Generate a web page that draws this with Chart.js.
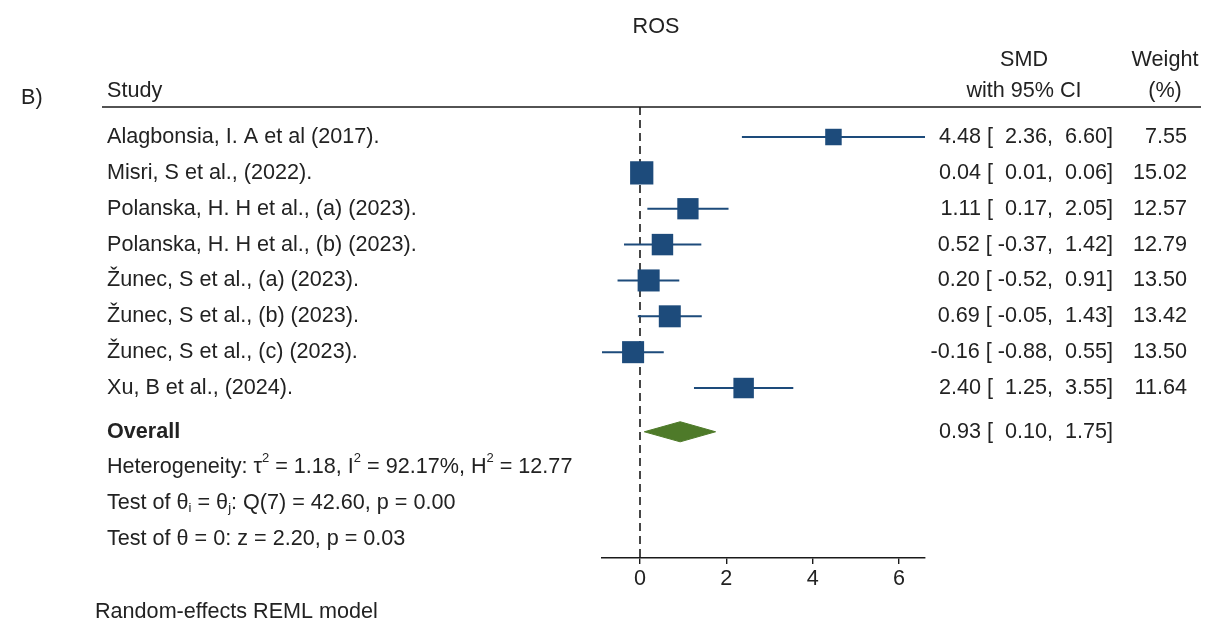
<!DOCTYPE html>
<html>
<head>
<meta charset="utf-8">
<script src="https://cdn.jsdelivr.net/npm/chart.js@4.4.0/dist/chart.umd.min.js"></script>
<style>
  html, body { margin: 0; padding: 0; background: #ffffff; }
  #wrap { width: 1206px; height: 626px; }
</style>
</head>
<body>
<div id="wrap"><canvas id="forest" width="1206" height="626"></canvas></div>
<script>
// ROS forest plot: standardized mean differences, random-effects REML
const studies = [
  "Alagbonsia, I. A et al (2017).",
  "Misri, S et al., (2022).",
  "Polanska, H. H et al., (a) (2023).",
  "Polanska, H. H et al., (b) (2023).",
  "Žunec, S et al., (a) (2023).",
  "Žunec, S et al., (b) (2023).",
  "Žunec, S et al., (c) (2023).",
  "Xu, B et al., (2024)."
];
const smd     = [4.48, 0.04, 1.11, 0.52, 0.20, 0.69, -0.16, 2.40];
const ciLow   = [2.36, 0.01, 0.17, -0.37, -0.52, -0.05, -0.88, 1.25];
const ciHigh  = [6.60, 0.06, 2.05, 1.42, 0.91, 1.43, 0.55, 3.55];
const weights = [7.55, 15.02, 12.57, 12.79, 13.50, 13.42, 13.50, 11.64];

const overallEst  = 0.93;
const overallLow  = 0.10;
const overallHigh = 1.75;

const xTicks = [0, 2, 4, 6];

const heterogeneity = { tau2: "1.18", i2: "92.17%", h2: "12.77" };
const qTest = { df: 7, q: "42.60", p: "0.00" };
const zTest = { z: "2.20", p: "0.03" };

// row layout (y values in row units)
const studyRows = studies.map((_, i) => i + 1);
const overallRow = 9.22;
const infoRows = [10.2, 11.2, 12.2];
const yTop = 0.163, yBottom = 12.74;

const FONT = "'Liberation Sans', Arial, Helvetica, sans-serif";
const FS = 21.6;
const TXT = "#222222";
const BLUE = "#1d4b7b";
const GREEN = "#4e7a29";

// CI segments, broken between studies
const ciPoints = [];
studyRows.forEach((r, i) => {
  ciPoints.push({ x: ciLow[i], y: r }, { x: ciHigh[i], y: r }, { x: null, y: null });
});

const squarePoints = studyRows.map((r, i) => ({ x: smd[i], y: r }));
const squareRadius = weights.map(w => 6 * Math.sqrt(w) / Math.SQRT2);

const dh = 0.28;
const diamondPoints = [
  { x: overallLow, y: overallRow },
  { x: overallEst, y: overallRow - dh },
  { x: overallHigh, y: overallRow },
  { x: overallEst, y: overallRow + dh },
  { x: overallLow, y: overallRow }
];

const fmt = v => v.toFixed(2).padStart(5, " ");
const ciLabel = (e, lo, hi) => fmt(e) + " [ " + fmt(lo) + ", " + fmt(hi) + "]";

function richText(ctx, x, y, parts, size) {
  let cx = x;
  parts.forEach(([s, kind]) => {
    let fs = size, dy = 0;
    if (kind === "sup") { fs = Math.round(size * 0.58); dy = -size * 0.38; }
    if (kind === "sub") { fs = Math.round(size * 0.58); dy = size * 0.28; }
    ctx.font = fs + "px " + FONT;
    ctx.fillText(s, cx, y + dy);
    cx += ctx.measureText(s).width;
  });
}

const tablePlugin = {
  id: "forestTable",
  afterDraw(chart) {
    const ctx = chart.ctx;
    const ys = chart.scales.y;
    const area = chart.chartArea;
    const size = FS;
    ctx.save();
    ctx.fillStyle = TXT;
    ctx.textBaseline = "middle";

    // title and panel letter
    ctx.font = size + "px " + FONT;
    ctx.textAlign = "center";
    ctx.fillText("ROS", 656, 27);
    ctx.textAlign = "left";
    ctx.fillText("B)", 21, 98);

    // column headers
    ctx.fillText("Study", 107, 91);
    ctx.textAlign = "center";
    ctx.fillText("SMD", 1024, 60);
    ctx.fillText("with 95% CI", 1024, 91);
    ctx.fillText("Weight", 1165, 60);
    ctx.fillText("(%)", 1165, 91);

    // header rule
    ctx.strokeStyle = "#1a1a1a";
    ctx.lineWidth = 1.6;
    ctx.beginPath();
    ctx.moveTo(102, area.top);
    ctx.lineTo(1201, area.top);
    ctx.stroke();

    // study rows
    studyRows.forEach((r, i) => {
      const py = ys.getPixelForValue(r);
      ctx.textAlign = "left";
      ctx.fillText(studies[i], 107, py);
      ctx.textAlign = "right";
      ctx.fillText(ciLabel(smd[i], ciLow[i], ciHigh[i]), 1113, py);
      ctx.fillText(weights[i].toFixed(2), 1187, py);
    });

    // overall row
    const oy = ys.getPixelForValue(overallRow);
    ctx.textAlign = "left";
    ctx.font = "bold " + size + "px " + FONT;
    ctx.fillText("Overall", 107, oy);
    ctx.font = size + "px " + FONT;
    ctx.textAlign = "right";
    ctx.fillText(ciLabel(overallEst, overallLow, overallHigh), 1113, oy);

    // heterogeneity and tests
    ctx.textAlign = "left";
    richText(ctx, 107, ys.getPixelForValue(infoRows[0]), [
      ["Heterogeneity: τ", "n"], ["2", "sup"], [" = " + heterogeneity.tau2 + ", I", "n"], ["2", "sup"],
      [" = " + heterogeneity.i2 + ", H", "n"], ["2", "sup"], [" = " + heterogeneity.h2, "n"]
    ], size);
    richText(ctx, 107, ys.getPixelForValue(infoRows[1]), [
      ["Test of θ", "n"], ["i", "sub"], [" = θ", "n"], ["j", "sub"],
      [": Q(" + qTest.df + ") = " + qTest.q + ", p = " + qTest.p, "n"]
    ], size);
    richText(ctx, 107, ys.getPixelForValue(infoRows[2]), [
      ["Test of θ = 0: z = " + zTest.z + ", p = " + zTest.p, "n"]
    ], size);

    // model note
    ctx.font = size + "px " + FONT;
    ctx.fillText("Random-effects REML model", 95, 612);
    ctx.restore();
  }
};

new Chart(document.getElementById("forest"), {
  type: "scatter",
  data: {
    datasets: [
      {
        type: "line",
        data: [{ x: 0, y: yTop }, { x: 0, y: yBottom }],
        borderColor: "#1a1a1a",
        borderWidth: 1.6,
        borderDash: [8, 5],
        pointRadius: 0,
        fill: false,
        order: 5
      },
      {
        type: "line",
        data: ciPoints,
        borderColor: BLUE,
        borderWidth: 2,
        pointRadius: 0,
        spanGaps: false,
        fill: false,
        order: 2
      },
      {
        type: "scatter",
        data: squarePoints,
        pointStyle: "rect",
        pointRadius: squareRadius,
        pointHoverRadius: squareRadius,
        backgroundColor: BLUE,
        borderColor: BLUE,
        borderWidth: 0,
        order: 1
      },
      {
        type: "line",
        data: diamondPoints,
        borderColor: GREEN,
        backgroundColor: GREEN,
        borderWidth: 1,
        pointRadius: 0,
        tension: 0,
        fill: "shape",
        order: 1
      }
    ]
  },
  options: {
    responsive: false,
    animation: false,
    devicePixelRatio: 1,
    events: [],
    layout: { padding: { left: 602, right: 1206 - 925, top: 107, bottom: 626 - 558 - 40 } },
    plugins: { legend: { display: false }, tooltip: { enabled: false } },
    scales: {
      x: {
        type: "linear",
        min: Math.min(...ciLow),
        max: Math.max(...ciHigh),
        afterBuildTicks: axis => { axis.ticks = xTicks.map(v => ({ value: v })); },
        afterFit: axis => { axis.height = 40; },
        border: { display: true, color: "#1a1a1a", width: 1.6 },
        grid: { display: true, drawOnChartArea: false, drawTicks: true, tickLength: 6, color: "#1a1a1a", lineWidth: 1.4 },
        ticks: { color: TXT, font: { family: FONT, size: FS }, padding: 2, maxRotation: 0, autoSkip: false }
      },
      y: {
        type: "linear",
        display: false,
        reverse: true,
        min: yTop,
        max: yBottom
      }
    }
  },
  plugins: [tablePlugin]
});
</script>
</body>
</html>
